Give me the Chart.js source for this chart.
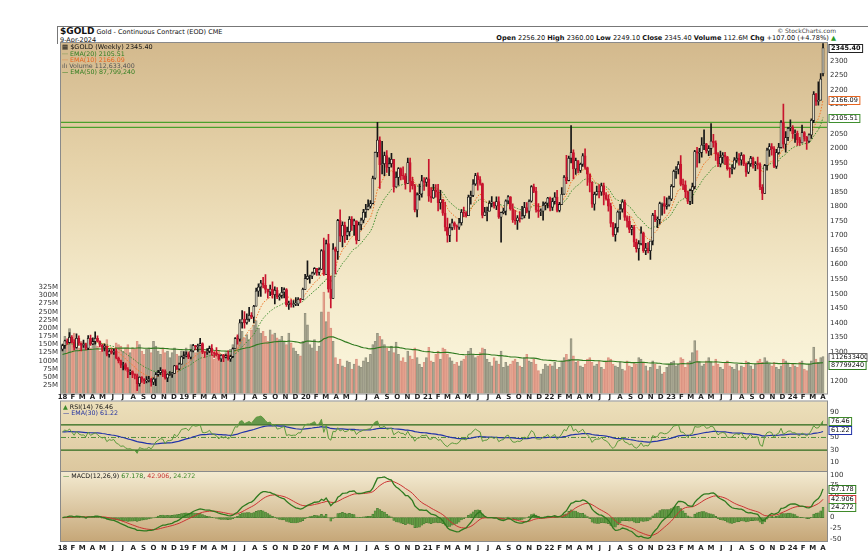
<!DOCTYPE html>
<html>
<head>
<meta charset="utf-8">
<title>$GOLD weekly</title>
<script src="https://cdn.jsdelivr.net/npm/chart.js@4.4.1/dist/chart.umd.min.js"></script>
<style>
  body { margin:0; width:868px; height:560px; background:#fff; position:relative; overflow:hidden; font-family:"DejaVu Sans", sans-serif; }
  canvas { position:absolute; left:0; }
  .t { position:absolute; white-space:nowrap; line-height:1; color:#111; }
</style>
</head>
<body>
<div style="position:absolute;left:57px;top:26px;width:811px;height:17px;border-top:1px solid #777;border-left:1px solid #777"></div>
<div class="t" style="left:60px;top:27px;font-size:6.5px"><b style="font-size:9px">$GOLD</b> Gold - Continuous Contract (EOD) CME</div>
<div class="t" style="left:60px;top:36.5px;font-size:6.5px">9-Apr-2024</div>
<div class="t" style="right:32px;top:28px;font-size:6px;color:#444">© StockCharts.com</div>
<div class="t" style="right:32px;top:34.5px;font-size:6.6px"><b>Open</b> 2256.20 <b>High</b> 2360.00 <b>Low</b> 2249.10 <b>Close</b> 2345.40 <b>Volume</b> 112.6M <b>Chg</b> +107.00 (+4.78%) <span style="color:#2a9a2a">▲</span></div>

<canvas id="price" width="868" height="370" style="top:33px"></canvas>
<canvas id="rsi" width="868" height="92" style="top:390px"></canvas>
<canvas id="macd" width="868" height="98" style="top:462px"></canvas>

<div class="t" style="left:62px;top:43.8px;font-size:6.5px">▦ $GOLD (Weekly) 2345.40</div>
<div class="t" style="left:62px;top:50.5px;font-size:6.3px;color:#2e7d1e">··· EMA(20) 2105.51</div>
<div class="t" style="left:62px;top:56.5px;font-size:6.3px;color:#e8641e">··· EMA(10) 2166.09</div>
<div class="t" style="left:62px;top:62.5px;font-size:6.3px;color:#555">ılı Volume 112,633,400</div>
<div class="t" style="left:62px;top:68.5px;font-size:6.3px;color:#2e7d1e">— EMA(50) 87,799,240</div>
<div class="t" style="left:63px;top:403.5px;font-size:6.3px"><span style="color:#3f8a2a">▲</span> RSI(14) 76.46</div>
<div class="t" style="left:63px;top:409.5px;font-size:6.3px;color:#1f2fa0">— EMA(30) 61.22</div>
<div class="t" style="left:63px;top:473px;font-size:6.3px"><span style="color:#2e7d1e">—</span> MACD(12,26,9) <span style="color:#2e7d1e">67.178</span>, <span style="color:#c83232">42.906</span>, <span style="color:#3f8a2a">24.272</span></div>
<div id="warn" class="t" style="left:300px;top:200px;font-size:14px;color:red"></div>

<script>
Chart.defaults.font.family = '"DejaVu Sans", sans-serif';
Chart.defaults.color = '#222';

// weekly bars, week 0 = 1-Jan-2018, last = week of 1-Apr-2024
const priorClose = 1309;   // close before the first bar
const lastOpen = 2256.2;   // header "Open"

const closes = [
  // 2018
  1322,1338,1332,1350,1333,1315,1347,1330,1323,1324, 1313,1347,1327,1336,1347,1336,1323,1315,1320,1291,
  1302,1298,1302,1279,1270,1254,1256,1241,1231,1232, 1223,1219,1191,1213,1206,1200,1201,1207,1196,1207,
  1222,1229,1236,1234,1210,1223,1223,1226,1252,1241, 1258,1283,
  // 2019
  1287,1291,1282,1303,1322,1318,1322,1329,1299,1298, 1302,1312,1298,1295,1290,1276,1288,1281,1287,1276,
  1284,1311,1346,1344,1400,1413,1400,1412,1426,1419, 1457,1509,1523,1537,1529,1515,1506,1516,1497,1512,
  1489,1494,1505,1514,1462,1468,1463,1465,1465,1481, 1480,1515,
  // 2020
  1552,1560,1560,1571,1587,1573,1584,1648,1566,1672, 1516,1484,1654,1645,1752,1698,1735,1700,1713,1756,
  1735,1751,1683,1737,1753,1780,1790,1801,1810,1897, 1986,2028,1944,1947,1975,1934,1947,1962,1867,1900,
  1930,1906,1905,1879,1951,1887,1871,1788,1840,1843, 1888,1883,
  // 2021
  1895,1835,1829,1856,1850,1813,1824,1777,1729,1700, 1727,1744,1733,1729,1744,1780,1777,1768,1832,1838,
  1877,1906,1892,1879,1769,1781,1784,1811,1815,1802, 1817,1763,1779,1784,1819,1833,1792,1754,1751,1761,
  1757,1768,1796,1784,1818,1868,1852,1788,1783,1784, 1804,1811,1829,
  // 2022
  1797,1817,1832,1786,1807,1842,1900,1889,1966,1985, 1929,1958,1924,1945,1974,1934,1911,1883,1808,1842,
  1851,1850,1871,1840,1826,1801,1742,1703,1727,1781, 1791,1815,1762,1749,1721,1728,1677,1655,1672,1709,
  1648,1657,1648,1681,1770,1754,1755,1810,1810,1800, 1805,1826,
  // 2023
  1869,1921,1928,1945,1876,1874,1850,1817,1855,1868, 1989,1983,1986,2011,2015,1990,1999,2025,2019,1981,
  1946,1969,1977,1971,1930,1929,1932,1960,1966,1960, 1976,1946,1918,1947,1966,1942,1946,1945,1866,1845,
  1941,1994,2006,1999,1938,1985,2003,2089,2014,2037, 2069,2072,
  // 2024
  2050,2051,2029,2018,2054,2038,2024,2046,2096,2186,2161,2165,2238,2345.4
];

const highs = [
  1327,1341,1345,1366,1356,1342,1362,1355,1328,1341, 1330,1356,1358,1348,1369,1355,1338,1326,1327,1320,
  1308,1309,1310,1311,1282,1272,1264,1262,1246,1238, 1235,1225,1224,1214,1215,1208,1215,1216,1209,1211,
  1229,1237,1246,1239,1238,1225,1232,1230,1254,1253, 1262,1286,
  1301,1300,1298,1306,1326,1323,1327,1347,1331,1301, 1311,1320,1325,1300,1315,1292,1291,1292,1291,1304,
  1289,1314,1349,1359,1411,1442,1439,1431,1453,1435, 1460,1519,1534,1546,1556,1566,1516,1530,1541,1524,
  1521,1500,1522,1520,1518,1475,1480,1476,1487,1487, 1484,1519,
  1567,1613,1564,1574,1590,1583,1589,1652,1691,1684, 1704,1560,1672,1660,1756,1788,1747,1746,1729,1765,
  1765,1757,1749,1746,1760,1790,1807,1823,1820,1904, 1987,2089,2039,2024,1987,1992,1967,1983,1960,1919,
  1934,1933,1936,1913,1966,1966,1900,1876,1847,1877, 1907,1899,
  1899,1962,1865,1876,1875,1876,1855,1824,1815,1760, 1740,1757,1747,1737,1759,1789,1798,1782,1839,1853,
  1892,1914,1916,1903,1880,1797,1798,1819,1834,1813, 1833,1833,1781,1794,1823,1837,1834,1809,1787,1769,
  1782,1800,1814,1813,1823,1872,1877,1866,1810,1792, 1816,1815,1831,
  1832,1829,1848,1855,1814,1865,1906,1976,1973,2078, 1995,1966,1956,1949,1982,1998,1935,1910,1885,1849,
  1870,1874,1880,1880,1848,1840,1812,1745,1741,1785, 1807,1824,1822,1768,1766,1735,1735,1688,1683,1730,
  1712,1673,1676,1681,1776,1787,1764,1815,1812,1834, 1830,1836,
  1875,1925,1937,1954,1975,1894,1888,1853,1860,1880, 1993,2003,2000,2037,2063,2017,2009,2085,2048,2026,
  1985,1990,1985,1986,1972,1934,1943,1968,1987,1982, 1985,1978,1949,1954,1972,1970,1954,1970,1950,1875,
  1945,2001,2016,2016,2006,1996,2017,2095,2152,2057, 2072,2098,
  2078,2063,2059,2038,2080,2057,2041,2050,2101,2195,2189,2228,2257,2360
];

const lows = [
  1303,1312,1326,1330,1331,1307,1313,1322,1303,1315, 1308,1308,1322,1325,1327,1334,1317,1302,1303,1286,
  1282,1293,1291,1276,1262,1246,1238,1237,1211,1222, 1211,1207,1167,1182,1195,1191,1193,1197,1182,1187,
  1184,1217,1222,1215,1206,1198,1219,1212,1226,1240, 1238,1260,
  1277,1283,1277,1276,1300,1307,1302,1321,1294,1281, 1291,1297,1288,1281,1286,1272,1267,1266,1279,1272,
  1267,1280,1311,1327,1337,1382,1382,1395,1405,1414, 1400,1461,1491,1491,1520,1502,1485,1493,1485,1465,
  1483,1478,1485,1486,1456,1446,1454,1454,1459,1459, 1470,1480,
  1518,1548,1536,1552,1566,1563,1564,1583,1563,1576, 1505,1451,1485,1568,1618,1679,1661,1676,1686,1699,
  1718,1700,1671,1693,1719,1743,1762,1788,1794,1809, 1894,1970,1862,1912,1906,1917,1906,1935,1849,1866,
  1873,1891,1893,1859,1883,1850,1859,1781,1764,1822, 1832,1855,
  1869,1817,1814,1828,1832,1785,1791,1769,1716,1677, 1679,1719,1721,1680,1721,1736,1765,1763,1770,1808,
  1834,1872,1856,1873,1761,1770,1750,1791,1798,1794, 1789,1759,1677,1774,1771,1810,1787,1745,1738,1721,
  1746,1757,1761,1778,1759,1815,1847,1780,1762,1768, 1753,1788,1795,
  1785,1786,1809,1781,1781,1819,1841,1878,1888,1950, 1895,1910,1915,1917,1938,1928,1872,1850,1797,1787,
  1839,1829,1838,1805,1822,1784,1730,1697,1681,1712, 1755,1780,1752,1729,1710,1702,1662,1643,1615,1668,
  1642,1634,1640,1618,1668,1748,1727,1740,1770,1776, 1791,1801,
  1820,1866,1896,1912,1871,1858,1830,1810,1806,1810, 1860,1935,1950,1969,1995,1983,1975,1977,2004,1958,
  1937,1936,1950,1944,1925,1900,1912,1928,1951,1942, 1942,1940,1903,1913,1938,1932,1923,1929,1858,1823,
  1847,1925,1972,1976,1933,1931,1980,2000,2000,1987, 2026,2060,
  2034,2020,2010,2010,2031,2024,1996,2020,2034,2088,2147,2148,2166,2249
];

// millions of contracts
const volumes = [
  150,175,160,199,170,185,150,140,160,155,135,165,140, 150,160,145,130,140,150,165,130,140,135,155,150,145,
  130,140,150,125,140,135,160,150,130,120,135,140,125, 160,145,130,120,140,125,130,110,125,140,120,115,130,
  120,140,130,150,145,125,135,150,130,110,125,140,120, 105,115,130,100,120,125,110,135,150,160,175,185,190,
  170,180,165,195,210,223,200,185,190,175,160,195,180, 185,170,165,175,160,150,185,155,140,130,120,115,160,
  245,210,150,140,165,130,145,250,310,220,250,200,160, 110,90,105,85,80,100,95,75,90,105,85,80,100,
  110,95,120,150,160,184,175,165,150,140,130,145,125, 157,120,100,110,95,130,115,105,140,110,90,80,95,
  110,141,100,95,120,130,105,140,135,120,110,100,90, 95,85,100,105,115,130,138,120,110,115,125,140,135,
  105,95,85,110,100,90,130,80,95,85,90,100,105, 95,85,80,110,120,100,95,105,90,70,60,75,90,85,
  90,85,95,75,80,100,110,120,105,168,115,95,100, 85,80,90,105,110,95,85,90,100,80,75,95,110,
  105,90,85,80,95,75,70,100,85,80,95,90,110, 105,95,85,70,80,100,90,75,85,60,65,80,90,
  95,100,85,90,110,105,80,95,100,125,162,131,95, 85,90,100,110,95,85,105,90,80,75,95,100,85,
  80,75,90,70,85,80,100,95,85,75,90,100,105, 95,110,100,90,85,95,80,75,85,105,100,90,80,
  90,85,80,95,100,75,70,90,100,142,105,95,110,112.6
];
const volEmaStart = 118;   // EMA(50) of volume at the left edge

const resistance = [2089, 2072];
const priceTicks = [1200,1250,1300,1350,1400,1450,1500,1550,1600,1650,1700,1750,1800,1850,1900,1950,2000,2050,2100,2150,2200,2250,2300];
const volTicks = [25,50,75,100,125,150,175,200,225,250,275,300,325];
const rsiTicks = [10,30,50,70,90];
const macdTicks = [-50,-25,0,25,50,75,100];
const monthLetters = ['J','F','M','A','M','J','J','A','S','O','N','D'];

const N = closes.length;
if ([highs.length, lows.length, volumes.length].some(l => l !== N)) {
  document.getElementById('warn').textContent = 'len ' + [N, highs.length, lows.length, volumes.length].join(',');
}

const X_MIN = -0.65, X_MAX = 327.7;

const opens = closes.map((c, i) => i === 0 ? priorClose : closes[i - 1]);
opens[N - 1] = lastOpen;
const up = closes.map((c, i) => c >= opens[i]);

function ema(src, n, seed) {
  const k = 2 / (n + 1);
  let e = seed;
  return src.map((v, i) => (e = (i === 0 && seed === undefined) ? v : v * k + e * (1 - k)));
}
function rsi(src, prev, n) {
  const ch = src.map((v, i) => v - (i ? src[i - 1] : prev));
  let ag = 0, al = 0;
  for (let i = 0; i < n; i++) { ag += Math.max(ch[i], 0) / n; al += Math.max(-ch[i], 0) / n; }
  return ch.map(c => {
    ag = (ag * (n - 1) + Math.max(c, 0)) / n;
    al = (al * (n - 1) + Math.max(-c, 0)) / n;
    return al === 0 ? 100 : 100 - 100 / (1 + ag / al);
  });
}

const ema10 = ema(closes, 10);
const ema20 = ema(closes, 20);
const volEma = ema(volumes, 50, volEmaStart);
const rsiVals = rsi(closes, priorClose, 14);
const rsiEma = ema(rsiVals, 30);
const e12 = ema(closes, 12), e26 = ema(closes, 26);
const macd = e12.map((v, i) => v - e26[i]);
const signal = ema(macd, 9);
const hist = macd.map((v, i) => v - signal[i]);

const pts = arr => arr.map((v, i) => ({x: i, y: v}));
const hline = v => [{x: X_MIN, y: v}, {x: X_MAX, y: v}];
const fixTicks = vals => s => { s.ticks = vals.map(v => ({value: v})); };

const t0 = Date.UTC(2018, 0, 1);
const monthTicks = [];
for (let y = 2018; y <= 2024; y++) {
  for (let m = 0; m < 12; m++) {
    const w = (Date.UTC(y, m, 1) - t0) / 6048e5;
    if (w <= X_MAX) monthTicks.push({value: w, label: m === 0 ? String(y).slice(2) : monthLetters[m]});
  }
}

const RED = '#c8142e', BLK = '#151515';

const wicks = closes.map((c, i) => ({x: i, y: [Math.min(lows[i], opens[i], c), Math.max(highs[i], opens[i], c)]}));
const bodies = closes.map((c, i) => {
  const lo = Math.min(opens[i], c), hi = Math.max(opens[i], c);
  return {x: i, y: [lo, Math.max(hi, lo + 2)]};
});

const panelPlugin = {
  id: 'panel',
  beforeDraw(chart, args, opts) {
    const {ctx, chartArea: a} = chart;
    const g = ctx.createLinearGradient(0, a.top, 0, a.bottom);
    opts.stops.forEach(([p, c]) => g.addColorStop(p, c));
    ctx.save();
    ctx.fillStyle = g;
    ctx.fillRect(a.left, a.top, a.right - a.left, a.bottom - a.top);
    ctx.restore();
  },
  afterDraw(chart) {
    const {ctx, chartArea: a} = chart;
    ctx.save();
    ctx.strokeStyle = '#8a8a8a';
    ctx.lineWidth = 1;
    ctx.strokeRect(a.left - 0.5, a.top - 0.5, a.right - a.left + 1, a.bottom - a.top + 1);
    ctx.restore();
  }
};

const tagPlugin = {
  id: 'tags',
  afterDraw(chart, args, opts) {
    const ctx = chart.ctx;
    (opts.list || []).forEach(t => {
      const y = Math.round(chart.scales[t.axis].getPixelForValue(t.value));
      ctx.save();
      ctx.font = (t.bold ? 'bold ' : '') + '6.5px "DejaVu Sans"';
      const w = Math.min(ctx.measureText(t.text).width + 4, 38);
      const x = chart.chartArea.right + 1.5;
      ctx.fillStyle = '#fff';
      ctx.fillRect(x, y - 4, w, 8);
      ctx.strokeStyle = t.color;
      ctx.lineWidth = 1;
      ctx.strokeRect(x + 0.5, y - 3.5, w, 8);
      ctx.beginPath();
      ctx.rect(x + 1, y - 3, w - 1, 7);
      ctx.clip();
      ctx.fillStyle = '#111';
      ctx.textBaseline = 'middle';
      ctx.fillText(t.text, x + 2.5, y + 0.5);
      ctx.restore();
    });
  }
};

const base = {
  responsive: false,
  animation: false,
  events: [],
};
const tickFont = {size: 7};
const monthAxis = (pos, h) => ({
  type: 'linear', min: X_MIN, max: X_MAX, offset: false, position: pos,
  grid: {display: false, drawTicks: false}, border: {display: false},
  afterBuildTicks: s => { s.ticks = monthTicks.map(m => ({value: m.value})); },
  afterFit: s => { s.height = h; },
  ticks: {autoSkip: false, maxRotation: 0, padding: pos === 'top' ? 0 : 3, color: '#222',
          font: {size: 7, weight: 'bold'}, callback: (v, i) => monthTicks[i] ? monthTicks[i].label : ''}
});
const rightAxis = (min, max, ticks) => ({
  position: 'right', min, max,
  grid: {display: false, drawTicks: false}, border: {display: false},
  afterBuildTicks: fixTicks(ticks), afterFit: s => { s.width = 41; },
  ticks: {padding: 3, font: tickFont, color: '#333', callback: v => String(v)}
});

// ---- price + volume ----
new Chart(document.getElementById('price'), {
  type: 'line',
  data: {
    datasets: [
      {type: 'bar', yAxisID: 'yv', order: 10, grouped: false, barThickness: 2.1, borderWidth: 0.5, borderSkipped: false,
       data: pts(volumes),
       backgroundColor: up.map(u => u ? 'rgba(150,150,128,0.62)' : 'rgba(226,138,118,0.55)'),
       borderColor: up.map(u => u ? 'rgba(110,110,95,0.7)' : 'rgba(200,100,90,0.6)')},
      {yAxisID: 'yv', order: 9, data: pts(volEma), borderColor: '#2f7a1f', borderWidth: 1.1, pointRadius: 0},
      ...resistance.map(v => ({yAxisID: 'y', order: 8, data: hline(v), borderColor: '#4aa02c', borderWidth: 1.4, pointRadius: 0})),
      {yAxisID: 'y', order: 7, data: pts(ema20), borderColor: '#3f8f2f', borderWidth: 1, borderDash: [1.5, 1.5], pointRadius: 0},
      {yAxisID: 'y', order: 6, data: pts(ema10), borderColor: '#f0782a', borderWidth: 1, borderDash: [1.5, 1.5], pointRadius: 0},
      {type: 'bar', yAxisID: 'y', order: 2, grouped: false, barThickness: 1, borderWidth: 0,
       data: wicks, backgroundColor: up.map(u => u ? BLK : RED)},
      {type: 'bar', yAxisID: 'y', order: 1, grouped: false, barThickness: 2.2, borderWidth: 0.8, borderSkipped: false,
       data: bodies,
       backgroundColor: up.map(u => u ? 'rgba(250,244,222,0.95)' : RED),
       borderColor: up.map(u => u ? BLK : RED)}
    ]
  },
  options: {
    ...base,
    layout: {padding: {top: 10, bottom: 9.5, left: 0, right: 0}},
    scales: {
      x: {type: 'linear', min: X_MIN, max: X_MAX, offset: false, display: false},
      y: rightAxis(1157, 2361.9, priceTicks),
      yv: {position: 'left', min: 0, max: 1072.5,
           grid: {display: false, drawTicks: false}, border: {display: false},
           afterBuildTicks: fixTicks(volTicks), afterFit: s => { s.width = 61; },
           ticks: {padding: 3, font: tickFont, color: '#333', callback: v => v + 'M'}}
    },
    plugins: {
      legend: {display: false}, tooltip: {enabled: false},
      panel: {stops: [[0, '#d3b98d'], [0.35, '#e6d3aa'], [0.7, '#f4eacb'], [1, '#fbf7de']]},
      tags: {list: [
        {axis: 'y', value: 2345.4, text: '2345.40', color: '#222', bold: true},
        {axis: 'y', value: 2166.09, text: '2166.09', color: '#e8641e'},
        {axis: 'y', value: 2105.51, text: '2105.51', color: '#3f8f2f'},
        {axis: 'yv', value: 112.6, text: '112633400', color: '#666'},
        {axis: 'yv', value: 87.8, text: '87799240', color: '#2f7a1f'}
      ]}
    }
  },
  plugins: [panelPlugin, tagPlugin]
});

// ---- RSI ----
const clear = 'rgba(0,0,0,0)';
new Chart(document.getElementById('rsi'), {
  type: 'line',
  data: {
    datasets: [
      {order: 9, data: pts(rsiVals), borderColor: clear, borderWidth: 0, pointRadius: 0,
       fill: {target: {value: 70}, above: 'rgba(70,135,50,0.8)', below: clear}},
      {order: 9, data: pts(rsiVals), borderColor: clear, borderWidth: 0, pointRadius: 0,
       fill: {target: {value: 30}, above: clear, below: 'rgba(70,135,50,0.8)'}},
      {order: 5, data: hline(70), borderColor: '#2d6a1c', borderWidth: 1.3, pointRadius: 0},
      {order: 5, data: hline(30), borderColor: '#2d6a1c', borderWidth: 1.3, pointRadius: 0},
      {order: 5, data: hline(50), borderColor: '#4f8f3a', borderWidth: 1, borderDash: [5, 2, 1, 2], pointRadius: 0},
      {order: 2, data: pts(rsiEma), borderColor: '#2233a8', borderWidth: 1.2, pointRadius: 0},
      {order: 1, data: pts(rsiVals), borderColor: '#5c9a3c', borderWidth: 1, pointRadius: 0}
    ]
  },
  options: {
    ...base,
    layout: {padding: {top: 3.5, bottom: 10, left: 61, right: 0}},
    scales: {
      x: monthAxis('top', 8),
      y: rightAxis(-4.8, 107.1, rsiTicks)
    },
    plugins: {
      legend: {display: false}, tooltip: {enabled: false},
      panel: {stops: [[0, '#ecdfba'], [1, '#dcc79e']]},
      tags: {list: [
        {axis: 'y', value: 76.46, text: '76.46', color: '#3f8a2a'},
        {axis: 'y', value: 61.22, text: '61.22', color: '#2233a8'}
      ]}
    }
  },
  plugins: [panelPlugin, tagPlugin]
});

// ---- MACD ----
new Chart(document.getElementById('macd'), {
  type: 'line',
  data: {
    datasets: [
      {type: 'bar', order: 3, grouped: false, barThickness: 2, borderWidth: 0.4, borderSkipped: false,
       data: pts(hist), backgroundColor: 'rgba(95,155,65,0.9)', borderColor: '#3f6f2a'},
      {order: 2, data: pts(signal), borderColor: '#cc3333', borderWidth: 1, pointRadius: 0},
      {order: 1, data: pts(macd), borderColor: '#2f7a1f', borderWidth: 1.3, pointRadius: 0}
    ]
  },
  options: {
    ...base,
    layout: {padding: {top: 10, bottom: 9, left: 61, right: 0}},
    scales: {
      x: monthAxis('bottom', 10),
      y: rightAxis(-54.6, 107, macdTicks)
    },
    plugins: {
      legend: {display: false}, tooltip: {enabled: false},
      panel: {stops: [[0, '#f3ead0'], [1, '#c6a778']]},
      tags: {list: [
        {axis: 'y', value: 67.178, text: '67.178', color: '#2f7a1f'},
        {axis: 'y', value: 42.906, text: '42.906', color: '#cc3333'},
        {axis: 'y', value: 24.272, text: '24.272', color: '#3f8a2a'}
      ]}
    }
  },
  plugins: [panelPlugin, tagPlugin]
});
</script>
</body>
</html>
